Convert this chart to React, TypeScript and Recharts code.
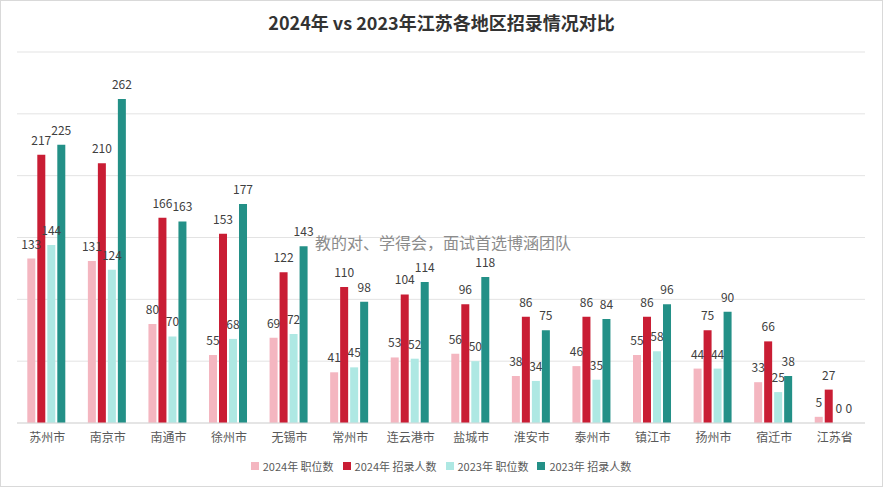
import React from 'react';
import { BarChart, Bar, XAxis, YAxis, CartesianGrid, Legend, LabelList } from 'recharts';

const categories = ['苏州市', '南京市', '南通市', '徐州市', '无锡市', '常州市', '连云港市', '盐城市', '淮安市', '泰州市', '镇江市', '扬州市', '宿迁市', '江苏省'];
const posts2024 = [133, 131, 80, 55, 69, 41, 53, 56, 38, 46, 55, 44, 33, 5];
const hires2024 = [217, 210, 166, 153, 122, 110, 104, 96, 86, 86, 86, 75, 66, 27];
const posts2023 = [144, 124, 70, 68, 72, 45, 52, 50, 34, 35, 58, 44, 25, 0];
const hires2023 = [225, 262, 163, 177, 143, 98, 114, 118, 75, 84, 96, 90, 38, 0];
const yTicks = [0, 50, 100, 150, 200, 250, 300];
const seriesNames = ['2024年 职位数', '2024年 招录人数', '2023年 职位数', '2023年 招录人数'];
const seriesColors = ['#F4B6C0', '#C91D34', '#AEE8E3', '#239087'];

const data = categories.map((c, i) => ({
  name: c,
  a: posts2024[i],
  b: hires2024[i],
  c: posts2023[i],
  d: hires2023[i],
}));

const FONT = '"Noto Sans CJK SC", "Noto Sans", sans-serif';
const keys = ['a', 'b', 'c', 'd'];

const renderLabel = (props: any) => {
  const { x, y, width, height, value } = props;
  if (value === undefined || value === null) return null;
  const top = Math.min(Number(y), Number(y) + Number(height || 0));
  return (
    <text
      x={Number(x) + Number(width) / 2}
      y={top - 10}
      textAnchor="middle"
      fill="#404040"
      fontSize={12}
      fontFamily={FONT}
    >
      {value}
    </text>
  );
};

const renderLegend = () => (
  <div style={{ display: 'flex', justifyContent: 'center', alignItems: 'center', fontFamily: FONT, fontSize: 11, color: '#595959', marginTop: 7 }}>
    {seriesNames.map((n, i) => (
      <div key={n} style={{ display: 'flex', alignItems: 'center', marginRight: i < 3 ? 9 : 0 }}>
        <span style={{ display: 'inline-block', width: 8, height: 8, background: seriesColors[i], marginRight: 4 }} />
        <span>{n}</span>
      </div>
    ))}
  </div>
);

const minSize = (value: any) => (Number(value) === 0 ? 0.01 : 0);

export default function App() {
  return (
    <div style={{ position: 'absolute', left: 0, top: 0, width: 883, height: 487, background: '#fff', fontFamily: FONT }}>
      <div style={{ position: 'absolute', left: 0, top: 10, width: 883, textAlign: 'center', fontSize: 18, fontWeight: 'bold', color: '#333', lineHeight: '24px' }}>
        2024年 vs 2023年江苏各地区招录情况对比
      </div>
      <BarChart
        width={883}
        height={487}
        data={data}
        margin={{ top: 52, right: 18, left: 17, bottom: 10 }}
        barCategoryGap="17%"
        barGap={2}
      >
        <CartesianGrid vertical={false} stroke="#E3E3E3" />
        <YAxis hide domain={[0, 300]} ticks={yTicks} />
        <XAxis
          dataKey="name"
          tickLine={false}
          axisLine={{ stroke: '#D9D9D9' }}
          tick={{ fill: '#595959', fontSize: 12, fontFamily: FONT, dy: 2 }}
          height={28}
          interval={0}
        />
        <Legend verticalAlign="bottom" height={26} content={renderLegend} />
        {keys.map((k, i) => (
          <Bar key={k} dataKey={k} name={seriesNames[i]} fill={seriesColors[i]} minPointSize={minSize} isAnimationActive={false}>
            <LabelList dataKey={k} content={renderLabel} />
          </Bar>
        ))}
      </BarChart>
      <div style={{ position: 'absolute', left: 315, top: 232, fontSize: 16, lineHeight: '20px', color: '#8C8C8C', whiteSpace: 'nowrap' }}>
        教的对、学得会，面试首选博涵团队
      </div>
      <div style={{ position: 'absolute', left: 0, top: 0, width: 883, height: 487, boxSizing: 'border-box', border: '1px solid #D9D9D9', pointerEvents: 'none' }} />
    </div>
  );
}
